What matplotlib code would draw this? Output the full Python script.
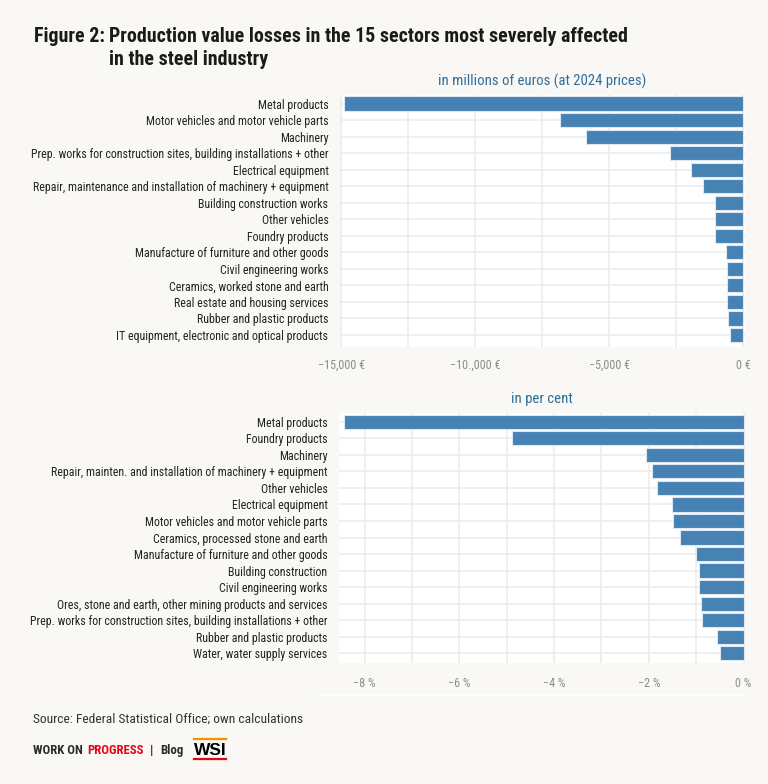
import matplotlib
matplotlib.use("Agg")
import matplotlib.pyplot as plt
from matplotlib import font_manager as fm
from matplotlib.lines import Line2D
from matplotlib.ticker import FixedLocator, NullFormatter

# ---------------- data ----------------
top_categories = [
    "Metal products",
    "Motor vehicles and motor vehicle parts",
    "Machinery",
    "Prep. works for construction sites, building installations + other",
    "Electrical equipment",
    "Repair, maintenance and installation of machinery + equipment",
    "Building construction works",
    "Other vehicles",
    "Foundry products",
    "Manufacture of furniture and other goods",
    "Civil engineering works",
    "Ceramics, worked stone and earth",
    "Real estate and housing services",
    "Rubber and plastic products",
    "IT equipment, electronic and optical products",
]
top_values = [-14890, -6850, -5880, -2735, -1960, -1515, -1045, -1045, -1040,
              -645, -620, -620, -600, -570, -485]
top_ticks = [-15000, -10000, -5000, 0]
top_tick_labels = ["\u221215,000 \u20ac", "\u221210.,000 \u20ac", "\u22125,000 \u20ac", "0 \u20ac"]
top_grid = [-15000, -12500, -10000, -7500, -5000, -2500, 0]

bottom_categories = [
    "Metal products",
    "Foundry products",
    "Machinery",
    "Repair, mainten. and installation of machinery + equipment",
    "Other vehicles",
    "Electrical equipment",
    "Motor vehicles and motor vehicle parts",
    "Ceramics, processed stone and earth",
    "Manufacture of furniture and other goods",
    "Building construction",
    "Civil engineering works",
    "Ores, stone and earth, other mining products and services",
    "Prep. works for construction sites, building installations + other",
    "Rubber and plastic products",
    "Water, water supply services",
]
bottom_values = [-8.43, -4.89, -2.07, -1.94, -1.82, -1.52, -1.48, -1.34,
                 -1.01, -0.94, -0.94, -0.90, -0.87, -0.56, -0.50]
bottom_ticks = [-8, -6, -4, -2, 0]
bottom_tick_labels = ["\u22128 %", "\u22126 %", "\u22124 %", "\u22122 %", "0 %"]
bottom_grid = [-8, -7, -6, -5, -4, -3, -2, -1, 0]

title_prefix = "Figure 2:"
title_lines = ["Production value losses in the 15 sectors most severely affected",
               "in the steel industry"]
top_subtitle = "in millions of euros (at 2024 prices)"
bottom_subtitle = "in per cent"
source_text = "Source: Federal Statistical Office; own calculations"

# ---------------- fonts ----------------
names = {f.name for f in fm.fontManager.ttflist}
font = None
for cand in ["Roboto Condensed", "Liberation Sans Narrow", "Open Sans Condensed",
             "Noto Sans Condensed", "DejaVu Sans Condensed", "Arial Narrow"]:
    if cand in names:
        font = cand
        break
if font is None:
    font = "Liberation Sans"
plt.rcParams["font.family"] = [font, "DejaVu Sans"]

BG = "#f9f8f4"
BAR = "#4682b4"
EDGE = "#dfe8f1"
GRID = "#ececec"
SUB = "#2f6e9c"
TICK = "#8c8c8c"
TXT = "#222222"

W, H = 768, 784
fig = plt.figure(figsize=(W / 100, H / 100), dpi=100, facecolor=BG)


def fx(px):
    return px / W


def fy(py):
    return 1 - py / H


def panel(rect, cats, vals, xlim, ylim, ticks, labels, grid, sub, tickpad):
    ax = fig.add_axes(rect)
    ax.set_facecolor("white")
    y = list(range(len(cats)))
    ax.barh(y, vals, height=0.86, color=BAR, edgecolor=EDGE, linewidth=0.8, zorder=3)
    ax.set_yticks(y)
    ax.set_yticklabels(cats, fontsize=8.55, color=TXT)
    ax.set_xlim(*xlim)
    ax.set_ylim(*ylim)
    ax.xaxis.set_major_locator(FixedLocator(ticks))
    ax.set_xticklabels(labels, fontsize=8.7, color=TICK)
    ax.xaxis.set_minor_locator(FixedLocator(grid))
    ax.xaxis.set_minor_formatter(NullFormatter())
    ax.grid(False)
    for g in grid:
        ax.axvline(g, color=GRID, lw=1.2, zorder=1)
    for yy in y:
        ax.axhline(yy, color=GRID, lw=1.2, zorder=1)
    ax.tick_params(axis="both", which="both", length=0)
    ax.tick_params(axis="x", pad=tickpad)
    ax.tick_params(axis="y", pad=8.3)
    for s in ax.spines.values():
        s.set_visible(False)
    ax.set_title(sub, fontsize=10.6, color=SUB, pad=7)
    return ax


ax1 = panel([fx(340), fy(347), fx(745) - fx(340), fy(95) - fy(347)],
            top_categories, top_values, (-15050, 65), (14.73, -0.52),
            top_ticks, top_tick_labels, top_grid, top_subtitle, 8.3)
ax2 = panel([fx(339), fy(663), fx(745) - fx(339), fy(413) - fy(663)],
            bottom_categories, bottom_values, (-8.54, 0.03), (14.59, -0.53),
            bottom_ticks, bottom_tick_labels, bottom_grid, bottom_subtitle, 10.3)

# thin line below lower panel
fig.add_artist(Line2D([fx(318), fx(746)], [fy(695), fy(695)], color="white", lw=1.2))

# title
TS = 14.35
fig.text(fx(34), fy(42), title_prefix, fontsize=TS, fontweight="bold", color="#1a1a1a", va="baseline")
fig.text(fx(109), fy(42), title_lines[0], fontsize=TS, fontweight="bold", color="#1a1a1a", va="baseline")
fig.text(fx(109), fy(65), title_lines[1], fontsize=TS, fontweight="bold", color="#1a1a1a", va="baseline")

# source
fig.text(fx(33), fy(723), source_text, fontsize=9.7, color="#333333", va="baseline")

# footer
fig.canvas.draw()
r = fig.canvas.get_renderer()
t1 = fig.text(fx(33), fy(754), "WORK ON ", fontsize=9.2, fontweight="bold", color="#2b2b2b", va="baseline")
bb = t1.get_window_extent(r)
t2 = fig.text(bb.x1 / W + fx(1), fy(754), "PROGRESS", fontsize=9.2, fontweight="bold", color="#e30613", va="baseline")
bb2 = t2.get_window_extent(r)
t3 = fig.text(bb2.x1 / W + fx(7), fy(754), "|", fontsize=9.2, fontweight="bold", color="#2b2b2b", va="baseline")
bb3 = t3.get_window_extent(r)
fig.text(bb3.x1 / W + fx(7), fy(754), "Blog", fontsize=9.2, fontweight="bold", color="#2b2b2b", va="baseline")

# WSI logo
fig.text(fx(194), fy(755), "WSI", fontsize=12.5, fontweight="bold", color="black", va="baseline",
         family=["Liberation Sans", "DejaVu Sans"])
fig.add_artist(Line2D([fx(194), fx(226)], [fy(738.5), fy(738.5)], color="#f39200", lw=1.6))
fig.add_artist(Line2D([fx(194), fx(226)], [fy(758.5), fy(758.5)], color="#e30613", lw=1.6))

fig.savefig("out.png", dpi=100, facecolor=BG)
